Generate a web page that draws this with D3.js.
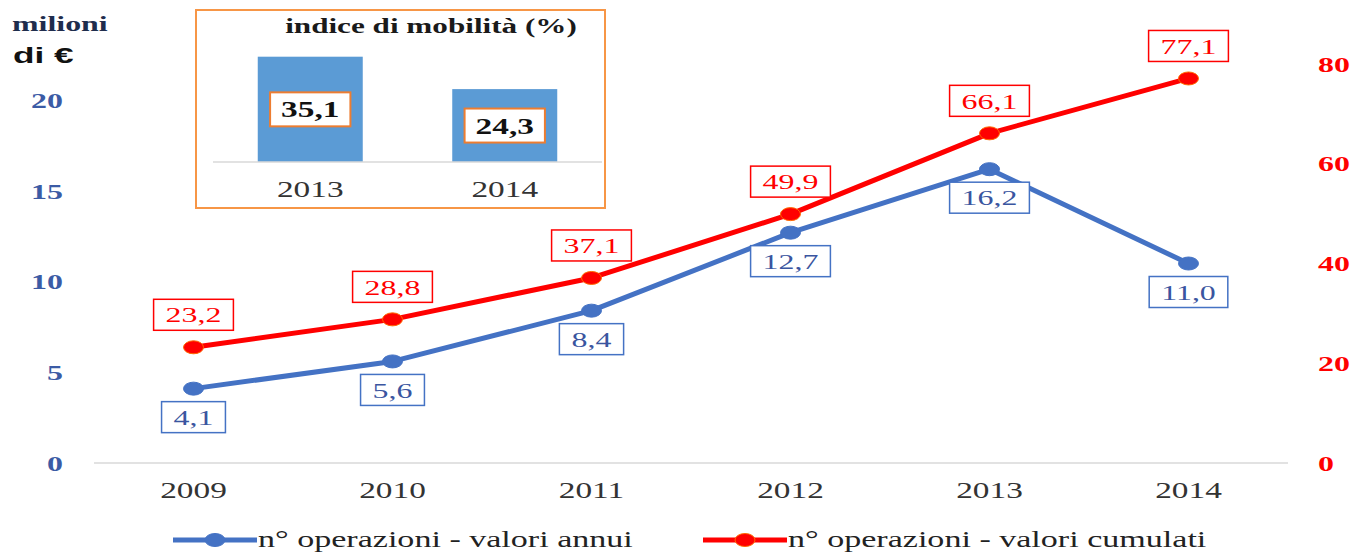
<!DOCTYPE html>
<html>
<head>
<meta charset="utf-8">
<script src="https://cdn.jsdelivr.net/npm/d3@7"></script>
<style>
    body { margin: 0; background: #fff; }
    svg { display: block; }
</style>
</head>
<body>
<svg id="chart" width="1352" height="553"></svg>
<script>
var years = ['2009', '2010', '2011', '2012', '2013', '2014'];
var annui = [4.1, 5.6, 8.4, 12.7, 16.2, 11.0];
var cumulati = [23.2, 28.8, 37.1, 49.9, 66.1, 77.1];
var leftTicks = [0, 5, 10, 15, 20];
var rightTicks = [0, 20, 40, 60, 80];
var insetYears = ['2013', '2014'];
var mobilita = [35.1, 24.3];
var legendNames = ['n° operazioni - valori annui', 'n° operazioni - valori cumulati'];

var SX = 1.45; // the picture is stretched horizontally
var SERIF = '"Liberation Serif", "Times New Roman", serif';
var BLUE = '#4472C4';
var RED = '#FF0000';

var svg = d3.select('#chart');

var fmt = function (v) {
    return d3.format('.1f')(v).replace('.', ',');
};

// testo allargato come nell'originale
function addText(g, x, y, str, opt) {
    return g.append('text')
        .attr('transform', 'translate(' + x + ',' + y + ') scale(' + (opt.sx || SX) + ',1)')
        .attr('font-family', opt.family || SERIF)
        .attr('font-size', opt.size || 22)
        .attr('font-weight', opt.weight || 'normal')
        .attr('fill', opt.color || '#333')
        .attr('text-anchor', opt.anchor || 'middle')
        .attr('dy', opt.dy || 0)
        .text(str);
}

var x = d3.scaleBand().domain(years).range([94, 1288]);
var yL = d3.scaleLinear().domain([0, 22]).range([463, 64]);
var yR = d3.scaleLinear().domain([0, 80]).range([463, 64]);
var cx = function (d, i) { return x(years[i]) + x.bandwidth() / 2; };

// base line
svg.append('line')
    .attr('x1', x.range()[0]).attr('x2', x.range()[1])
    .attr('y1', yL(0)).attr('y2', yL(0))
    .attr('stroke', '#D9D9D9').attr('stroke-width', 1.5);

// assi
var axisG = svg.append('g');
leftTicks.forEach(function (t) {
    addText(axisG, 63, yL(t), t, {color: '#3B5BA5', weight: 'bold', anchor: 'end', dy: '0.35em'});
});
rightTicks.forEach(function (t) {
    addText(axisG, 1318, yR(t), t, {color: RED, weight: 'bold', anchor: 'start', dy: '0.35em'});
});
years.forEach(function (yr) {
    addText(axisG, x(yr) + x.bandwidth() / 2, 498, yr, {color: '#333', size: 23});
});

addText(svg, 12, 31, 'milioni', {color: '#1F2D4D', weight: 'bold', anchor: 'start'});
addText(svg, 13, 63, 'di €', {family: '"Liberation Sans", Arial, sans-serif', color: '#111', weight: 'bold', anchor: 'start', size: 22, sx: 1.6});

// linee
var series = [
    {values: annui, scale: yL, color: BLUE, stroke: BLUE, pos: 'below', textColor: '#3A55A0'},
    {values: cumulati, scale: yR, color: RED, stroke: '#FF6A00', pos: 'above', textColor: RED}
];

series.forEach(function (s) {
    var line = d3.line()
        .x(function (d, i) { return cx(d, i); })
        .y(function (d) { return s.scale(d); });
    svg.append('path')
        .attr('d', line(s.values))
        .attr('fill', 'none')
        .attr('stroke', s.color)
        .attr('stroke-width', 5)
        .attr('stroke-linejoin', 'round');
});

series.forEach(function (s) {
    var g = svg.append('g');
    g.selectAll('ellipse').data(s.values).enter().append('ellipse')
        .attr('cx', cx)
        .attr('cy', function (d) { return s.scale(d); })
        .attr('rx', 10).attr('ry', 6.5)
        .attr('fill', s.color)
        .attr('stroke', s.stroke).attr('stroke-width', 1);

    s.values.forEach(function (v, i) {
        var px = cx(v, i);
        var py = s.scale(v);
        var h = 31;
        var top = s.pos === 'above' ? py - 17 - h : py + 13;
        var rect = g.append('rect');
        var t = addText(g, px, top + h / 2, fmt(v), {color: s.textColor, dy: '0.35em'});
        var w = t.node().getBBox().width * SX + 24;
        rect.attr('x', px - w / 2).attr('y', top)
            .attr('width', w).attr('height', h)
            .attr('fill', '#fff')
            .attr('stroke', s.color).attr('stroke-width', 1.5);
    });
});

// legenda
var legendX = [173, 703];
series.forEach(function (s, i) {
    var lg = svg.append('g');
    lg.append('line')
        .attr('x1', legendX[i]).attr('x2', legendX[i] + 84)
        .attr('y1', 540).attr('y2', 540)
        .attr('stroke', s.color).attr('stroke-width', 5);
    lg.append('ellipse')
        .attr('cx', legendX[i] + 42).attr('cy', 540)
        .attr('rx', 10).attr('ry', 6.5)
        .attr('fill', s.color)
        .attr('stroke', s.stroke).attr('stroke-width', 1);
    addText(lg, legendX[i] + 85, 540, legendNames[i], {color: '#222', anchor: 'start', dy: '0.3em', size: 23.5});
});

// riquadro indice di mobilità
var inset = svg.append('g');
inset.append('rect')
    .attr('x', 196).attr('y', 10)
    .attr('width', 409).attr('height', 198)
    .attr('fill', '#fff')
    .attr('stroke', '#F79646').attr('stroke-width', 2);
addText(inset, 431, 33, 'indice di mobilità (%)', {color: '#1a1a1a', weight: 'bold', size: 21.5});

var xi = d3.scaleBand().domain(insetYears).range([213, 602]);
var yi = d3.scaleLinear().domain([0, 40]).range([162, 42]);
var barW = 105;

inset.selectAll('.bar').data(mobilita).enter().append('rect')
    .attr('class', 'bar')
    .attr('x', function (d, i) { return xi(insetYears[i]) + xi.bandwidth() / 2 - barW / 2; })
    .attr('y', function (d) { return yi(d); })
    .attr('width', barW)
    .attr('height', function (d) { return yi(0) - yi(d); })
    .attr('fill', '#5B9BD5');

inset.append('line')
    .attr('x1', 213).attr('x2', 602)
    .attr('y1', yi(0)).attr('y2', yi(0))
    .attr('stroke', '#D9D9D9').attr('stroke-width', 1.5);

mobilita.forEach(function (v, i) {
    var mx = xi(insetYears[i]) + xi.bandwidth() / 2;
    var my = (yi(v) + yi(0)) / 2;
    var rect = inset.append('rect');
    var t = addText(inset, mx, my, fmt(v), {color: '#111', weight: 'bold', dy: '0.35em', size: 23});
    var w = t.node().getBBox().width * SX + 22;
    rect.attr('x', mx - w / 2).attr('y', my - 17)
        .attr('width', w).attr('height', 34)
        .attr('fill', '#fff')
        .attr('stroke', '#ED7D31').attr('stroke-width', 2);
    addText(inset, mx, 197, insetYears[i], {color: '#333', size: 23});
});
</script>
</body>
</html>
